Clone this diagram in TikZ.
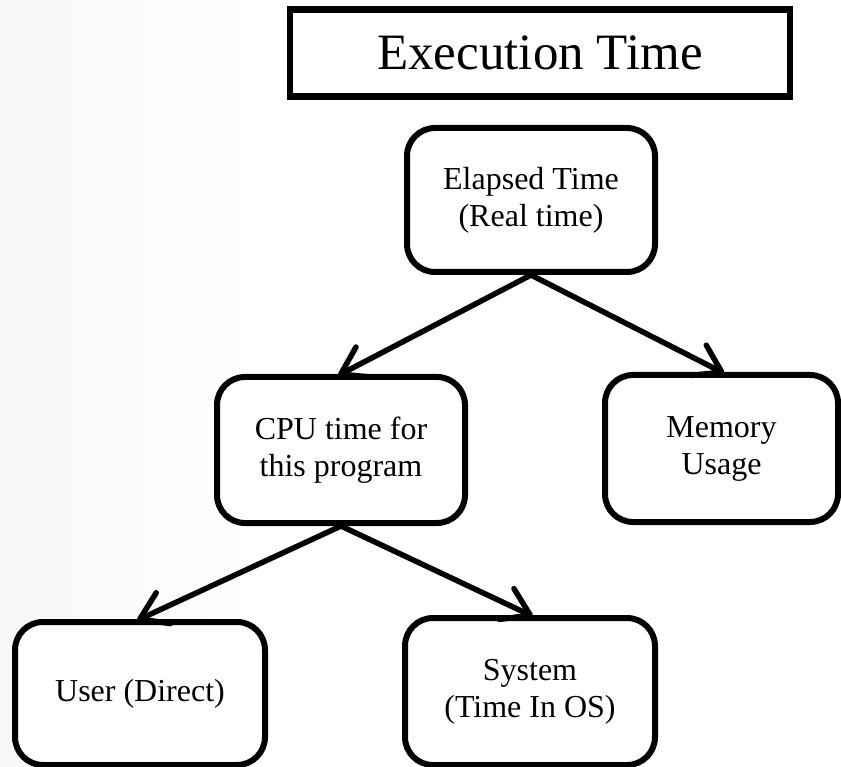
\documentclass[tikz,border=0pt]{standalone}
\usepackage{fontspec}
\setmainfont{Liberation Serif}
\usetikzlibrary{arrows.meta}
\tikzset{
  box/.style={draw=black, line width=6pt, rounded corners=28pt, fill=white,
    inner sep=0pt, align=center, font=\fontsize{32}{37}\selectfont},
  titlebox/.style={draw=black, line width=6.5pt, fill=white, inner sep=0pt,
    minimum width=500pt, minimum height=87pt, font=\fontsize{51}{58}\selectfont},
  link/.style={line width=5.5pt, line cap=round,
    -{Straight Barb[length=26pt,width=34pt,line width=5.5pt,round]}, shorten >=-3pt}
}
\begin{document}
\begin{tikzpicture}[x=1pt,y=-1pt]
\useasboundingbox (0,0) rectangle (841,767);
\shade[left color=gray!6, right color=white] (0,0) rectangle (260,767);
\node[titlebox] (title) at (540,53) {Execution Time};
\node[box, minimum width=248pt, minimum height=144pt] (elapsed) at (531,200) {Elapsed Time\\(Real time)};
\node[box, minimum width=248pt, minimum height=146pt] (cpu) at (341,450) {CPU time for\\this program};
\node[box, minimum width=233pt, minimum height=147pt] (mem) at (721.5,448.5) {Memory\\Usage};
\node[box, minimum width=250pt, minimum height=143pt] (user) at (140,693.5) {User (Direct)};
\node[box, minimum width=250pt, minimum height=147pt] (sys) at (530,691.5) {System\\(Time In OS)};
\draw[link] (elapsed.south) -- (cpu.north);
\draw[link] (elapsed.south) -- (mem.north);
\draw[link] (cpu.south) -- (user.north);
\draw[link] (cpu.south) -- (sys.north);
\end{tikzpicture}
\end{document}
